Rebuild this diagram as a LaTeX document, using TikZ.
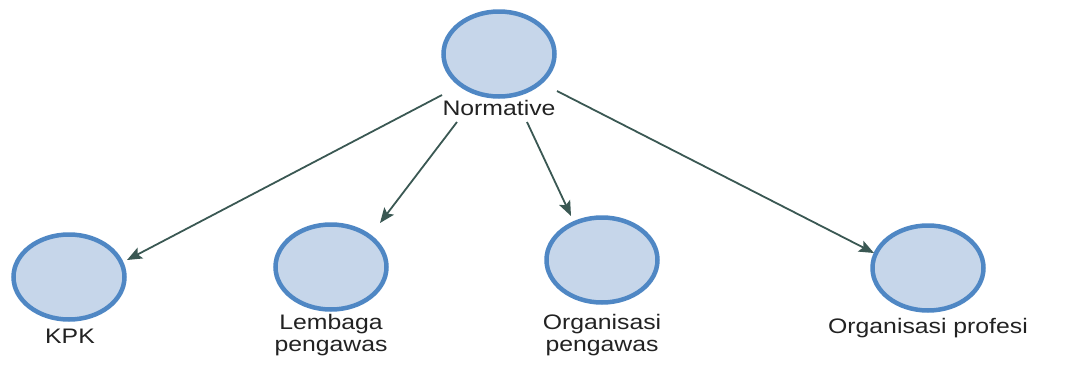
\documentclass[tikz,border=0pt]{standalone}
\usepackage{fontspec}
\setmainfont{Liberation Sans}[FakeStretch=1.18]
\usetikzlibrary{shapes.geometric,arrows.meta}
\definecolor{nodefill}{HTML}{C6D6EA}
\definecolor{nodeedge}{HTML}{4F87C4}
\definecolor{arrowcol}{HTML}{3A5853}
\definecolor{labcol}{HTML}{222222}
\tikzset{
  bubble/.style={ellipse, draw=nodeedge, fill=nodefill, line width=4.5pt,
    minimum width=111pt, minimum height=85pt, inner sep=0pt},
  lab/.style={font=\fontsize{21}{21}\selectfont, text=labcol, inner sep=0pt, align=center},
  conn/.style={draw=arrowcol, line width=1.8pt,
    -{Stealth[length=15pt,width=12pt,inset=3pt]}}
}
\begin{document}
\begin{tikzpicture}[x=1pt,y=-1pt]
\useasboundingbox (0,0) rectangle (1074,365);
% nodes
\node[bubble] (N) at (499,54) {};
\node[lab, anchor=base] (Nl) at (499,115) {Normative};
\node[bubble] (K) at (69,277) {};
\node[lab, anchor=base] (Kl) at (70,343) {KPK};
\node[bubble] (L) at (331,267) {};
\node[lab, anchor=north] (Ll) at (331,314) {Lembaga\\[1pt]pengawas};
\node[bubble] (O) at (602,260) {};
\node[lab, anchor=north] (Ol) at (602,314) {Organisasi\\[1pt]pengawas};
\node[bubble] (P) at (928,268) {};
\node[lab, anchor=base] (Pl) at (928,333) {Organisasi profesi};
% connectors
\draw[conn] ([shift={(-57,41)}]N.center) -- ([shift={(58,-17)}]K.center);
\draw[conn] ([shift={(-42,68)}]N.center) -- ([shift={(49,-44)}]L.center);
\draw[conn] ([shift={(28,68)}]N.center) -- ([shift={(-31,-44)}]O.center);
\draw[conn] ([shift={(58,37)}]N.center) -- ([shift={(-54,-15)}]P.center);
\end{tikzpicture}
\end{document}
